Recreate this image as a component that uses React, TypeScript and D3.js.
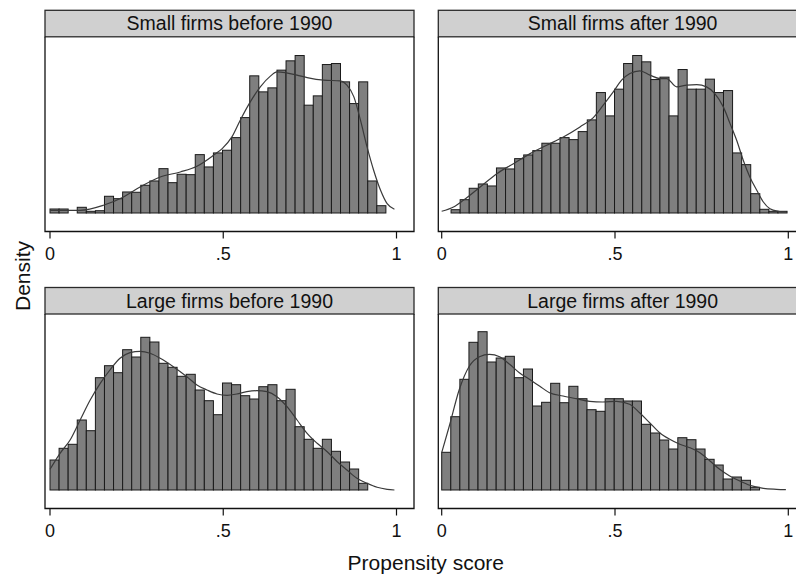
import React, { useEffect } from 'react';
import * as d3 from 'd3';

// panel titles (strip labels)
const titles = [
  'Small firms before 1990',
  'Small firms after 1990',
  'Large firms before 1990',
  'Large firms after 1990',
];

const xTicks = [0, 0.5, 1];
const xTickLabels = ['0', '.5', '1'];

// histogram bins: start of first bin and width, per panel
const binStarts = [0, 0.027, 0, 0];
const binWidth = 0.0262;

// bar heights (density, arbitrary units)
const smallBefore = [
  4, 4, 0, 5.7, 1.7, 2.3, 16.7, 14.3, 21, 20.7, 27.7, 32, 44.3, 30.3, 38.7, 38.3,
  58.3, 46, 60, 62.7, 75.3, 95.3, 137, 121, 125, 142.7, 152, 157.3, 107.7, 117,
  148.3, 149.3, 131, 109.3, 131, 32, 7.3,
];
const smallAfter = [
  3.3, 13.3, 24.7, 29, 27, 45, 44, 54.3, 58, 62.3, 69.7, 69.7, 75.3, 73.3, 81.3,
  93, 120.3, 97, 123.7, 149.3, 157.3, 151, 133.3, 135.7, 97, 143.3, 123.7, 123.7,
  133.7, 120.3, 122.3, 60, 48.3, 19.3, 3.7, 1.7, 1.7,
];
const largeBefore = [
  30, 41.7, 45.7, 70, 59.3, 112.3, 124.3, 117.3, 140.3, 133, 152.7, 148, 126.7,
  122.7, 113.7, 115.7, 100, 89.3, 75.3, 107, 105.3, 94.3, 91, 103.3, 105.3, 89.3,
  100.7, 63.3, 50.7, 41.7, 50.7, 38.7, 28, 21, 6.7,
];
const largeAfter = [
  37.7, 73.3, 110.7, 147.7, 158.3, 128, 132, 133.7, 112.3, 121, 84, 87.7, 106.7,
  87.3, 103.7, 91.3, 80.3, 78.7, 91.3, 91.3, 89, 89, 65.7, 57, 50, 41, 52.3, 50.3,
  41, 30.7, 25, 11, 13, 9.7, 2.7,
];

// kernel density estimates: [propensity score, density]
const smallBeforeKde: [number, number][] = [
  [0, 2.7], [0.087, 2.7], [0.154, 7.7], [0.212, 16], [0.26, 26], [0.318, 36],
  [0.376, 41], [0.424, 46.7], [0.472, 57.7], [0.497, 64.3], [0.525, 76],
  [0.549, 92.7], [0.578, 111], [0.607, 126], [0.636, 136.7], [0.655, 141],
  [0.679, 140.3], [0.713, 137.7], [0.742, 135.3], [0.79, 132.7], [0.838, 132],
  [0.857, 127.7], [0.877, 116], [0.896, 92.7], [0.915, 66], [0.934, 42.7],
  [0.954, 22.7], [0.973, 9.3], [0.994, 3.7],
];
const smallAfterKde: [number, number][] = [
  [0, 1.7], [0.034, 6], [0.0625, 12.7], [0.111, 26], [0.159, 39.3], [0.207, 49.3],
  [0.255, 59.3], [0.303, 67.7], [0.351, 76], [0.399, 86], [0.4375, 95.3],
  [0.466, 107.7], [0.495, 121], [0.519, 132.7], [0.543, 139.3], [0.572, 142],
  [0.601, 137.7], [0.63, 134.3], [0.649, 134.3], [0.678, 126], [0.707, 127.7],
  [0.736, 128.3], [0.764, 126], [0.788, 119.3], [0.8125, 106], [0.832, 89.3],
  [0.851, 72.7], [0.87, 52.7], [0.889, 36], [0.909, 22.7], [0.928, 11],
  [0.947, 4.3], [0.971, 1.7], [0.993, 1],
];
const largeBeforeKde: [number, number][] = [
  [0, 20.7], [0.029, 36.7], [0.058, 50], [0.087, 70], [0.116, 90], [0.145, 106.7],
  [0.173, 120], [0.202, 131.7], [0.231, 137.3], [0.26, 138.7], [0.289, 136.7],
  [0.318, 131.7], [0.356, 123.3], [0.395, 113.3], [0.424, 105], [0.453, 100],
  [0.482, 96], [0.511, 94.7], [0.539, 96], [0.568, 98.3], [0.597, 99.3],
  [0.626, 98.3], [0.655, 93.3], [0.684, 83.3], [0.713, 70], [0.742, 56.7],
  [0.771, 46.7], [0.8, 38.3], [0.829, 28.3], [0.857, 20], [0.886, 11.7],
  [0.915, 6.7], [0.944, 2.7], [0.973, 0.7], [0.994, 0],
];
const largeAfterKde: [number, number][] = [
  [0, 37.3], [0.022, 64], [0.051, 100.7], [0.08, 124], [0.109, 133.3],
  [0.138, 135.7], [0.167, 133.3], [0.196, 125.7], [0.224, 117.3], [0.253, 110.7],
  [0.282, 104], [0.311, 97.3], [0.35, 94], [0.388, 91.3], [0.427, 88.7],
  [0.465, 88], [0.504, 88.7], [0.542, 85.7], [0.571, 77.3], [0.6, 67.3],
  [0.629, 57.3], [0.658, 50.7], [0.687, 45.7], [0.716, 42.3], [0.745, 37.3],
  [0.774, 29], [0.802, 20.7], [0.831, 14], [0.86, 9], [0.889, 4.7],
  [0.928, 1.7], [0.966, 0.7], [0.993, 0.3],
];

const bars = [smallBefore, smallAfter, largeBefore, largeAfter];
const kdes = [smallBeforeKde, smallAfterKde, largeBeforeKde, largeAfterKde];

// layout
const W = 796;
const H = 580;
const colBox = [
  [45, 414],
  [438.3, 807],
];
const colRange = [
  [50, 396.5],
  [441.7, 788.3],
];
const rowStrip = [10.3, 287.5];
const stripH = 26.5;
const rowBottom = [231.5, 508.5];
const baseGap = 18.5;
const yMax = 176;
const font = '"Liberation Sans", Arial, Helvetica, sans-serif';

function Panel({ i }: { i: number }) {
  const col = i % 2;
  const row = Math.floor(i / 2);
  const [bl, br] = colBox[col];
  const top = rowStrip[row] + stripH;
  const bottom = rowBottom[row];
  const x = d3.scaleLinear().domain([0, 1]).range(colRange[col]);
  const y = d3
    .scaleLinear()
    .domain([0, yMax])
    .range([bottom - baseGap, top]);

  const line = d3
    .line<[number, number]>()
    .x((d) => x(d[0]))
    .y((d) => y(d[1]))
    .curve(d3.curveMonotoneX);

  const vals = bars[i];
  const start = binStarts[i];

  return (
    <g>
      {/* strip */}
      <rect
        x={bl}
        y={rowStrip[row]}
        width={br - bl}
        height={stripH}
        fill="#d0d0d0"
        stroke="#2a2a2a"
        strokeWidth={1.3}
      />
      <text
        x={(bl + br) / 2}
        y={rowStrip[row] + stripH / 2 + 6.8}
        textAnchor="middle"
        fontFamily={font}
        fontSize={19.5}
        fill="#111"
      >
        {titles[i]}
      </text>
      {/* plot box */}
      <path
        d={`M${bl},${top}V${bottom}H${br}V${top}`}
        fill="none"
        stroke="#111"
        strokeWidth={1.3}
      />
      {/* bars */}
      {vals.map((v, k) => {
        const x0 = x(start + k * binWidth);
        const x1 = x(start + (k + 1) * binWidth);
        return (
          <rect
            key={k}
            x={x0}
            y={y(v)}
            width={x1 - x0}
            height={y(0) - y(v)}
            fill="#7f7f7f"
            stroke="#1a1a1a"
            strokeWidth={1}
          />
        );
      })}
      {/* density curve */}
      <path
        d={line(kdes[i]) || ''}
        fill="none"
        stroke="#3a3a3a"
        strokeWidth={1.2}
      />
      {/* x axis ticks */}
      {xTicks.map((t, k) => (
        <g key={k}>
          <line
            x1={x(t)}
            x2={x(t)}
            y1={bottom}
            y2={bottom + 7}
            stroke="#111"
            strokeWidth={1.2}
          />
          <text
            x={x(t)}
            y={bottom + 28}
            textAnchor="middle"
            fontFamily={font}
            fontSize={18}
            fill="#111"
          >
            {xTickLabels[k]}
          </text>
        </g>
      ))}
    </g>
  );
}

export default function App() {
  useEffect(() => {
    document.body.style.margin = '0';
  }, []);

  return (
    <svg width={W} height={H} style={{ display: 'block', background: '#fff' }}>
      <rect x={0} y={0} width={W} height={H} fill="#fff" />
      {[0, 1, 2, 3].map((i) => (
        <Panel key={i} i={i} />
      ))}
      <text
        transform="translate(30,276) rotate(-90)"
        textAnchor="middle"
        fontFamily={font}
        fontSize={21}
        fill="#111"
      >
        Density
      </text>
      <text
        x={425.8}
        y={570}
        textAnchor="middle"
        fontFamily={font}
        fontSize={21}
        fill="#111"
      >
        Propensity score
      </text>
    </svg>
  );
}
